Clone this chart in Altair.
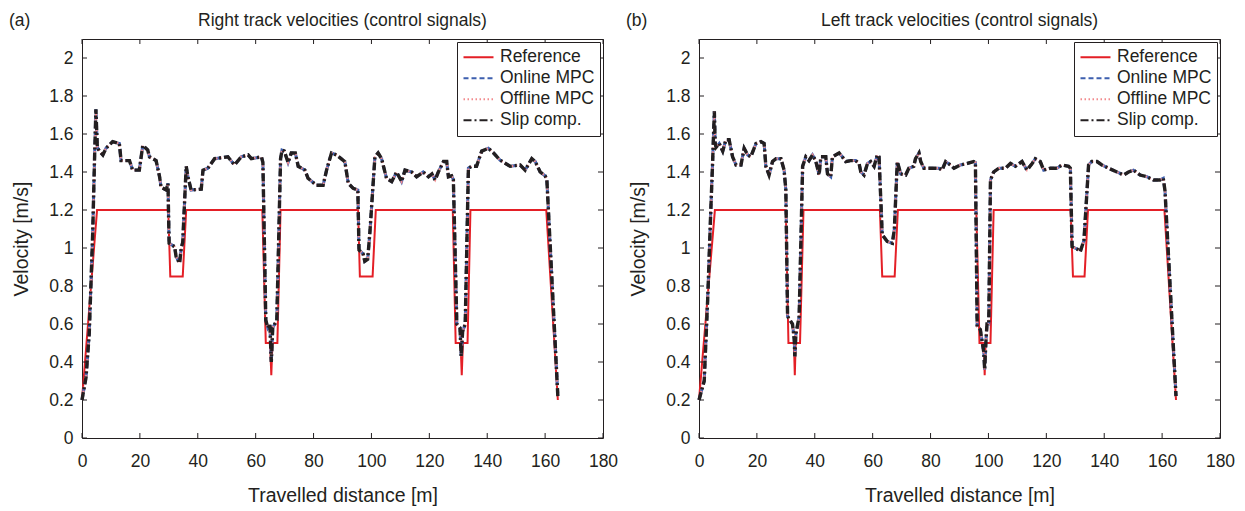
import altair as alt
import pandas as pd

FONT = "Liberation Sans"
INK = "#231f20"

# ---------------- data ----------------
x_ticks = [0, 20, 40, 60, 80, 100, 120, 140, 160, 180]
y_ticks = [0, 0.2, 0.4, 0.6, 0.8, 1, 1.2, 1.4, 1.6, 1.8, 2]

series_names = ["Reference", "Online MPC", "Offline MPC", "Slip comp."]
series_colors = ["#e41f26", "#3d5fae", "#f28a8d", "#231f20"]
series_dashes = [[1, 0], [5, 3], [1.5, 2.5], [8, 3, 2, 3]]
series_widths = [2, 3, 2.2, 3.4]

# (a) Right track
right_ref_x = [0, 5.2, 29.8, 30.5, 34.8, 36.0, 62.3, 63.5, 65.0, 65.4, 65.8, 67.5, 68.6,
               95.4, 96.0, 100.4, 101.5, 128.1, 129.1, 130.8, 131.2, 131.6, 133.2, 134.2,
               160.4, 164.4]
right_ref_y = [0.2, 1.2, 1.2, 0.85, 0.85, 1.2, 1.2, 0.5, 0.5, 0.33, 0.5, 0.5, 1.2,
               1.2, 0.85, 0.85, 1.2, 1.2, 0.5, 0.5, 0.33, 0.5, 0.5, 1.2,
               1.2, 0.2]
right_mpc_x = [0, 1.4, 2.5, 3.7, 4.3, 4.8, 5.3, 6.0, 7.2, 8.3, 10.6, 12.9, 13.5, 16.4, 17.5,
               19.8, 21.0, 22.7, 23.3, 25.6, 26.8, 27.3, 29.1, 29.7, 30.1, 32.0, 32.5, 33.7,
               34.3, 34.8, 36.0, 36.6, 37.7, 41.2, 41.8, 43.5, 45.8, 50.4, 52.7, 55.0, 57.4,
               58.5, 62.0, 62.5, 63.5, 64.2, 64.9, 65.4, 65.9, 66.6, 67.3, 68.6, 69.1, 69.9,
               71.2, 72.3, 73.7, 74.7, 77.0, 78.1, 81.0, 83.3, 84.5, 86.2, 87.9, 90.8, 92.0,
               93.7, 95.3, 95.7, 97.1, 97.7, 98.7, 99.5, 101.2, 102.3, 103.5, 105.2, 107.0,
               108.7, 110.4, 111.6, 113.9, 115.6, 117.9, 119.7, 120.9, 122.0, 123.1, 124.9,
               126.0, 126.6, 127.7, 128.3, 129.5, 130.6, 131.0, 131.5, 132.4, 133.5, 134.6,
               136.3, 138.1, 140.4, 142.2, 144.4, 147.9, 151.4, 153.1, 155.4, 156.6, 158.3,
               160.0, 160.6, 164.4]
right_mpc_y = [0.2, 0.32, 0.55, 1.08, 1.45, 1.73, 1.53, 1.51, 1.49, 1.525, 1.56, 1.55, 1.46, 1.46, 1.41,
               1.41, 1.54, 1.516, 1.48, 1.46, 1.375, 1.32, 1.305, 1.34, 1.025, 1.007, 0.955, 0.92,
               1.0, 1.03, 1.43, 1.375, 1.305, 1.31, 1.41, 1.42, 1.47, 1.48, 1.437, 1.48, 1.49,
               1.47, 1.48, 1.45, 0.62, 0.58, 0.6, 0.4, 0.58, 0.6, 0.62, 1.47, 1.515, 1.51,
               1.45, 1.5, 1.5, 1.43, 1.41, 1.367, 1.33, 1.33, 1.41, 1.5, 1.49, 1.455, 1.34,
               1.314, 1.305, 0.99, 0.97, 0.93, 0.94, 1.09, 1.48, 1.5, 1.47, 1.367, 1.35,
               1.4, 1.35, 1.41, 1.4, 1.375, 1.4, 1.375, 1.39, 1.358, 1.4, 1.455,
               1.455, 1.375, 1.38, 1.36, 0.6, 0.58, 0.43, 0.56, 0.6, 1.42, 1.43,
               1.43, 1.51, 1.525, 1.5, 1.463, 1.43, 1.437, 1.41, 1.47, 1.455, 1.4,
               1.38, 1.36, 0.22]

# (b) Left track
left_ref_x = [0, 5.5, 30.0, 30.9, 32.8, 33.1, 33.4, 34.9, 36.1, 62.5, 63.3, 67.6, 68.7,
              95.8, 96.9, 98.4, 98.7, 99.0, 100.7, 101.8, 128.4, 129.2, 133.2, 134.4,
              160.8, 164.8]
left_ref_y = [0.2, 1.2, 1.2, 0.5, 0.5, 0.33, 0.5, 0.5, 1.2, 1.2, 0.85, 0.85, 1.2,
              1.2, 0.5, 0.5, 0.33, 0.5, 0.5, 1.2, 1.2, 0.85, 0.85, 1.2,
              1.2, 0.2]
left_mpc_x = [0, 1.8, 3.0, 4.1, 4.7, 5.3, 5.6, 5.9, 7.0, 8.2, 9.3, 10.4, 11.6, 12.8, 14.5,
              15.6, 16.8, 17.9, 19.7, 21.4, 22.5, 23.1, 24.2, 25.4, 26.6, 28.3, 29.4, 30.0,
              30.6, 32.3, 32.9, 33.1, 33.5, 34.0, 34.6, 35.8, 36.9, 38.0, 39.2, 40.3, 41.5,
              42.1, 43.8, 44.4, 45.5, 46.1, 48.4, 49.5, 50.7, 52.4, 54.1, 55.3, 55.9, 57.0,
              58.2, 59.3, 60.5, 61.6, 62.2, 63.3, 65.0, 66.8, 67.5, 68.5, 69.7, 71.4, 72.5,
              74.2, 74.8, 76.0, 76.6, 77.7, 80.0, 82.9, 84.0, 85.2, 86.9, 88.1, 90.3, 92.7,
              94.9, 95.5, 96.1, 97.2, 98.4, 98.7, 99.1, 99.5, 100.1, 100.7, 101.8, 103.6,
              105.9, 107.6, 109.3, 111.6, 113.3, 115.1, 116.2, 117.9, 119.1, 121.4, 123.7,
              125.4, 127.7, 128.3, 128.9, 130.6, 131.7, 133.0, 134.6, 135.7, 137.5, 139.2,
              141.5, 144.4, 146.7, 148.4, 150.1, 152.4, 154.7, 157.0, 159.3, 160.4, 161.0,
              164.8]
left_mpc_y = [0.2, 0.3, 0.73, 1.21, 1.45, 1.72, 1.55, 1.53, 1.55, 1.51, 1.57, 1.57, 1.48, 1.437, 1.437,
              1.525, 1.49, 1.48, 1.55, 1.56, 1.55, 1.43, 1.384, 1.455, 1.47, 1.47, 1.41, 1.305,
              0.64, 0.6, 0.52, 0.43, 0.55, 0.59, 0.64, 1.43, 1.48, 1.46, 1.49, 1.46, 1.384,
              1.48, 1.48, 1.39, 1.375, 1.48, 1.5, 1.48, 1.455, 1.46, 1.46, 1.445, 1.4, 1.384,
              1.445, 1.455, 1.43, 1.49, 1.48, 1.07, 1.035, 1.025, 1.1, 1.455, 1.39, 1.384, 1.42,
              1.43, 1.47, 1.5, 1.455, 1.42, 1.42, 1.42, 1.41, 1.455, 1.437, 1.42, 1.437, 1.445,
              1.455, 1.45, 0.586, 0.57, 0.45, 0.36, 0.5, 0.6, 0.6, 1.358, 1.4, 1.42,
              1.42, 1.445, 1.43, 1.455, 1.41, 1.445, 1.47, 1.455, 1.41, 1.42, 1.42,
              1.437, 1.43, 1.42, 1.007, 0.995, 0.98, 1.04, 1.437, 1.455, 1.455, 1.437,
              1.42, 1.4, 1.384, 1.4, 1.41, 1.384, 1.375, 1.358, 1.358, 1.367, 1.3,
              0.22]

W, H = 521, 399


def panel(tag, title, ref_x, ref_y, mpc_x, mpc_y):
    rows = [("Reference", x, y) for x, y in zip(ref_x, ref_y)]
    for name in series_names[1:]:
        rows += [(name, x, y) for x, y in zip(mpc_x, mpc_y)]
    df = pd.DataFrame(rows, columns=["series", "x", "y"])

    X = alt.X("x:Q",
              scale=alt.Scale(domain=[0, 180], nice=False, zero=False),
              axis=alt.Axis(values=x_ticks, format="d", title="Travelled distance [m]",
                            tickSize=0, labelPadding=14, titlePadding=17, grid=False,
                            domain=False, labelFlush=False, labelOverlap=False))
    Y = alt.Y("y:Q",
              scale=alt.Scale(domain=[0, 2.1], nice=False, zero=False),
              axis=alt.Axis(values=y_ticks, format="~g", title="Velocity [m/s]",
                            tickSize=0, labelPadding=9, titlePadding=17, grid=False,
                            domain=False, labelOverlap=False))
    legend = alt.Legend(title=None, orient="top-right", offset=3, padding=5,
                        strokeColor=INK, fillColor="white", symbolType="stroke",
                        symbolSize=900, symbolStrokeWidth=2.2, labelFont=FONT,
                        labelFontSize=17.5, labelColor=INK, labelOffset=5,
                        clipHeight=20.5, rowPadding=0, cornerRadius=0)
    color = alt.Color("series:N", scale=alt.Scale(domain=series_names, range=series_colors),
                      legend=legend)
    dash = alt.StrokeDash("series:N", scale=alt.Scale(domain=series_names, range=series_dashes),
                          legend=legend)

    layers = []
    for name, w in zip(series_names, series_widths):
        layers.append(
            alt.Chart(df).transform_filter(alt.datum.series == name)
            .mark_line(strokeWidth=w)
            .encode(x=X, y=Y, color=color, strokeDash=dash)
        )

    xt = pd.DataFrame({"x": x_ticks})
    yt = pd.DataFrame({"y": y_ticks})
    tick_style = dict(color=INK, strokeWidth=1)
    layers += [
        alt.Chart(xt).mark_rule(**tick_style).encode(x=X, y=alt.value(0), y2=alt.value(5)),
        alt.Chart(xt).mark_rule(**tick_style).encode(x=X, y=alt.value(H), y2=alt.value(H - 5)),
        alt.Chart(yt).mark_rule(**tick_style).encode(y=Y, x=alt.value(0), x2=alt.value(5)),
        alt.Chart(yt).mark_rule(**tick_style).encode(y=Y, x=alt.value(W), x2=alt.value(W - 5)),
    ]

    layers.append(
        alt.Chart(pd.DataFrame({"t": [title]}))
        .mark_text(font=FONT, fontSize=17.5, color=INK, align="center", baseline="alphabetic")
        .encode(text="t:N", x=alt.value(W / 2), y=alt.value(-13.5))
    )
    layers.append(
        alt.Chart(pd.DataFrame({"t": [tag]}))
        .mark_text(font=FONT, fontSize=17.5, color=INK, align="left", baseline="alphabetic")
        .encode(text="t:N", x=alt.value(-73), y=alt.value(-13.5))
    )
    return alt.layer(*layers).properties(width=W, height=H)


left_panel = panel("(a)", "Right track velocities (control signals)",
                   right_ref_x, right_ref_y, right_mpc_x, right_mpc_y)
right_panel = panel("(b)", "Left track velocities (control signals)",
                    left_ref_x, left_ref_y, left_mpc_x, left_mpc_y)

chart = (
    alt.hconcat(left_panel, right_panel, spacing=96, bounds="flush")
    .resolve_scale(color="independent", strokeDash="independent")
    .properties(padding={"left": 8, "top": 11, "right": 5, "bottom": 5}, background="white")
    .configure_view(stroke=INK, strokeWidth=1)
    .configure_axis(labelFont=FONT, labelFontSize=17.5, labelColor=INK,
                    titleFont=FONT, titleFontSize=19.5, titleFontWeight="normal",
                    titleColor=INK)
)

chart.save("out.html", embed_options={"renderer": "svg", "actions": False})
